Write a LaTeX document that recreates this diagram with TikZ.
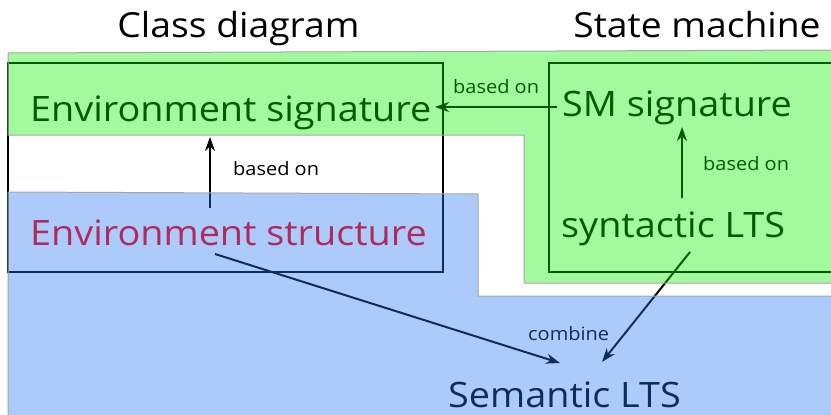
\documentclass[tikz,border=0pt]{standalone}
\usepackage{fontspec}
\setmainfont[FakeStretch=1.08]{Open Sans}
\usetikzlibrary{arrows.meta}
\definecolor{ovgreen}{RGB}{10,240,0}
\definecolor{ovblue}{RGB}{40,118,242}
\definecolor{edgegray}{RGB}{165,165,165}
\tikzset{
  big/.style={font=\fontsize{35}{40}\selectfont, inner sep=0pt, anchor=base west},
  title/.style={font=\fontsize{34.5}{40}\selectfont, inner sep=0pt, anchor=base},
  lbl/.style={font=\fontsize{18.5}{22}\selectfont, inner sep=0pt, anchor=base west},
  arr/.style={line width=2pt, -{Stealth[length=14pt,width=10pt,inset=4.5pt]}},
  frame/.style={line width=2pt, draw=black},
  overlay/.style={draw=edgegray, line width=1pt, fill opacity=0.38}
}
\begin{document}
\begin{tikzpicture}[x=1pt,y=-1pt]
\useasboundingbox (0,0) rectangle (831,415);
% frames
\draw[frame] (8,63) rectangle (443,272);
\draw[frame] (549,63) rectangle (840,272);
% titles
\node[title] (tclass) at (238.5,37) {Class diagram};
\node[title] (tsm) at (697,37) {State machine};
% main texts
\node[big] (esig) at (30,121) {Environment signature};
\node[big,text=red] (estr) at (30,245) {Environment structure};
\node[big] (smsig) at (562,116) {SM signature};
\node[big] (synlts) at (561,237) {syntactic LTS};
\node[big] (semlts) at (448,407) {Semantic LTS};
% labels
\node[lbl] (l1) at (233,175) {based on};
\node[lbl] (l2) at (453,93) {based on};
\node[lbl] (l3) at (703,170) {based on};
\node[lbl] (l4) at (528,340) {combine};
% connector end points
\coordinate (a1s) at (210,208);
\coordinate (a1e) at (210,137);
\coordinate (a2s) at (557,107);
\coordinate (a2e) at (435,107);
\coordinate (a3s) at (682,198);
\coordinate (a3e) at (682,127);
\coordinate (a4s) at (215,254);
\coordinate (a4e) at (560,363);
\coordinate (a5s) at (690,252);
\coordinate (a5e) at (602,362);
\draw[arr] (a1s) -- (a1e);
\draw[arr] (a2s) -- (a2e);
\draw[arr] (a3s) -- (a3e);
\draw[arr] (a4s) -- (a4e);
\draw[arr] (a5s) -- (a5e);
% translucent overlays
\filldraw[overlay, fill=ovgreen] (8,53) -- (832,50) -- (832,283) -- (524,283) -- (524,135) -- (8,135) -- cycle;
\filldraw[overlay, fill=ovblue] (8,192) -- (478,194) -- (478,296) -- (832,296) -- (832,416) -- (8,416) -- cycle;
\end{tikzpicture}
\end{document}
